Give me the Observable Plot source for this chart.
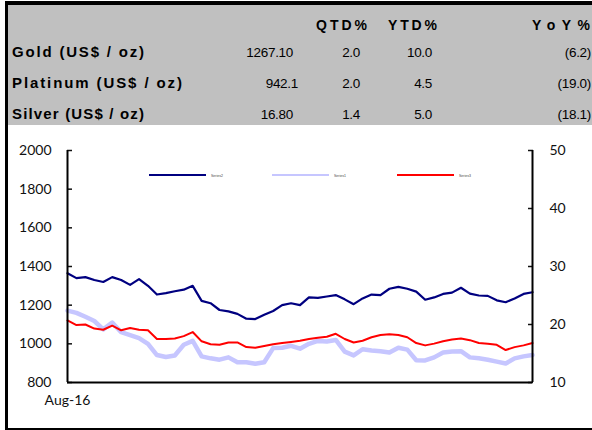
<!DOCTYPE html>
<html>
<head>
<meta charset="utf-8">
<script src="https://cdn.jsdelivr.net/npm/d3@7"></script>
<script src="https://cdn.jsdelivr.net/npm/@observablehq/plot@0.6"></script>
<style>
  html, body { margin: 0; padding: 0; background: #fff; overflow: hidden; }
  #page { position: relative; width: 592px; height: 430px; }
  #page > * { position: absolute; }
</style>
</head>
<body>
<div id="page"></div>
<script>
// ---- table data ----
const rowLabels = ["Gold (US$ / oz)", "Platinum (US$ / oz)", "Silver (US$ / oz)"];
const colHeaders = ["QTD%", "YTD%", "YoY%"];
const prices = ["1267.10", "942.1", "16.80"];
const qtd = ["2.0", "2.0", "1.4"];
const ytd = ["10.0", "4.5", "5.0"];
const yoy = ["(6.2)", "(19.0)", "(18.1)"];

// ---- chart data (weekly) ----
const dates = ["2016-08-01","2016-08-08","2016-08-15","2016-08-22","2016-08-29",
  "2016-09-05","2016-09-12","2016-09-19","2016-09-26",
  "2016-10-03","2016-10-10","2016-10-17","2016-10-24","2016-10-31",
  "2016-11-07","2016-11-14","2016-11-21","2016-11-28",
  "2016-12-05","2016-12-12","2016-12-19","2016-12-26",
  "2017-01-02","2017-01-09","2017-01-16","2017-01-23","2017-01-30",
  "2017-02-06","2017-02-13","2017-02-20","2017-02-27",
  "2017-03-06","2017-03-13","2017-03-20","2017-03-27",
  "2017-04-03","2017-04-10","2017-04-17","2017-04-24",
  "2017-05-01","2017-05-08","2017-05-15","2017-05-22","2017-05-29",
  "2017-06-05","2017-06-12","2017-06-19","2017-06-26",
  "2017-07-03","2017-07-10","2017-07-17","2017-07-24","2017-07-31"];
const gold = [1365,1340,1345,1330,1320,1345,1330,1305,1335,1300,
  1255,1262,1272,1280,1300,1222,1210,1175,1168,1155,
  1130,1128,1150,1170,1200,1210,1200,1240,1238,1245,
  1252,1230,1205,1235,1255,1252,1285,1295,1285,1270,
  1228,1240,1258,1265,1290,1260,1250,1248,1225,1215,
  1235,1258,1267];
const platinum = [1172,1160,1140,1118,1075,1110,1060,1045,1030,1000,
  942,932,940,995,1015,935,925,918,930,905,
  905,897,905,978,980,990,975,1000,1015,1012,
  1020,960,940,972,966,962,955,980,970,915,
  914,930,955,960,962,930,925,918,908,898,
  925,935,942];
const silver = [20.7,19.9,20.0,19.3,19.1,19.8,19.0,19.4,19.1,19.0,
  17.5,17.5,17.6,18.0,18.7,17.1,16.6,16.5,16.9,16.9,
  16.1,16.0,16.3,16.6,16.8,17.0,17.2,17.5,17.7,17.9,
  18.4,17.5,16.9,17.2,17.8,18.2,18.3,18.2,17.8,16.8,
  16.4,16.7,17.1,17.4,17.6,17.3,16.8,16.7,16.5,15.6,
  16.1,16.4,16.8];
const leftTicks = [800,1000,1200,1400,1600,1800,2000];
const rightTicks = [10,20,30,40,50];
const legendNames = ["Series2","Series1","Series3"];

const page = document.getElementById("page");

// ---- header background ----
function box(l, t, w, h, bg) {
  const d = document.createElement("div");
  Object.assign(d.style, {left: l+"px", top: t+"px", width: w+"px", height: h+"px", background: bg});
  page.appendChild(d);
}
box(8, 5, 584, 120, "#c0c0c0");

// ---- chart ----
const parse = d3.utcParse("%Y-%m-%d");
const xs = dates.map(parse);
const toLeft = v => 800 + (v - 10) * 30;     // silver (right axis) -> left scale
const fromLeft = v => (v - 800) / 30 + 10;
const goldData = xs.map((d, i) => ({date: d, value: gold[i]}));
const platData = xs.map((d, i) => ({date: d, value: platinum[i]}));
const silvData = xs.map((d, i) => ({date: d, value: toLeft(silver[i])}));

const chart = Plot.plot({
  width: 592, height: 303,
  marginLeft: 67, marginRight: 60, marginTop: 25, marginBottom: 46,
  x: {type: "utc", domain: [xs[0], xs[xs.length - 1]], label: null},
  y: {domain: [800, 2000], label: null},
  style: {fontFamily: "Lato, 'Liberation Sans', sans-serif", fontSize: "14px", background: "transparent", color: "#111"},
  marks: [
    Plot.axisY(leftTicks, {anchor: "left", tickSize: -5, tickPadding: 21, label: null, strokeWidth: 1.5,
      tickFormat: d => String(d)}),
    Plot.axisY(rightTicks.map(toLeft), {anchor: "right", tickSize: -5, tickPadding: 22, label: null, strokeWidth: 1.5,
      tickFormat: d => String(Math.round(fromLeft(d)))}),
    Plot.axisX([xs[0]], {tickSize: 0, tickPadding: 13, label: null, tickFormat: d3.utcFormat("%b-%y")}),
    Plot.line(platData, {x: "date", y: "value", stroke: "#c6c6ff", strokeWidth: 4.5}),
    Plot.line(silvData, {x: "date", y: "value", stroke: "#ff0000", strokeWidth: 2}),
    Plot.line(goldData, {x: "date", y: "value", stroke: "#000080", strokeWidth: 2.2}),
    Plot.ruleX([xs[0], xs[xs.length - 1]], {stroke: "#000", strokeWidth: 2}),
    Plot.ruleY([800], {stroke: "#000", strokeWidth: 2})
  ]
});
chart.style.left = "0px";
chart.style.top = "125px";
page.appendChild(chart);

// ---- header text and legend (overlay svg) ----
const ov = d3.select(page).append("svg")
  .attr("width", 592).attr("height", 430)
  .style("left", "0px").style("top", "0px");

const hdrFont = "'Liberation Sans', Arial, sans-serif";
const headerRight = [367, 437, 590];
const headerLen = [51, 49, 58];
colHeaders.forEach((h, i) => {
  ov.append("text").attr("x", headerRight[i] - headerLen[i]).attr("y", 29.5)
    .attr("textLength", headerLen[i]).attr("lengthAdjust", "spacing")
    .style("font", `bold 14px ${hdrFont}`).text(h);
});
const rowY = [57, 88, 118.5];
const labelLen = [132, 170, 132];
const priceRight = [293, 298, 293];
rowLabels.forEach((r, i) => {
  ov.append("text").attr("x", 12).attr("y", rowY[i])
    .attr("textLength", labelLen[i]).attr("lengthAdjust", "spacing")
    .style("font", `bold 15px ${hdrFont}`).text(r);
  const cells = [[prices[i], priceRight[i]], [qtd[i], 360], [ytd[i], 432], [yoy[i], 591]];
  cells.forEach(([t, x]) => {
    ov.append("text").attr("x", x).attr("y", rowY[i]).attr("text-anchor", "end")
      .style("font", `13.5px ${hdrFont}`).style("letter-spacing", "-0.3px").text(t);
  });
});

// legend
const legColors = ["#000080", "#c6c6ff", "#ff0000"];
const legX = [149, 272, 397];
legendNames.forEach((n, i) => {
  ov.append("line").attr("x1", legX[i]).attr("x2", legX[i] + 57).attr("y1", 175).attr("y2", 175)
    .attr("stroke", legColors[i]).attr("stroke-width", 2);
  ov.append("text").attr("x", legX[i] + 62).attr("y", 176.5)
    .style("font", `3.5px ${hdrFont}`).attr("fill", "#444").text(n);
});

// frame lines
ov.append("rect").attr("x", 5).attr("y", 1).attr("width", 587).attr("height", 4).attr("fill", "#000");
ov.append("rect").attr("x", 5).attr("y", 1).attr("width", 3).attr("height", 429).attr("fill", "#000");
ov.append("rect").attr("x", 5).attr("y", 428).attr("width", 587).attr("height", 2).attr("fill", "#000");
</script>
</body>
</html>
